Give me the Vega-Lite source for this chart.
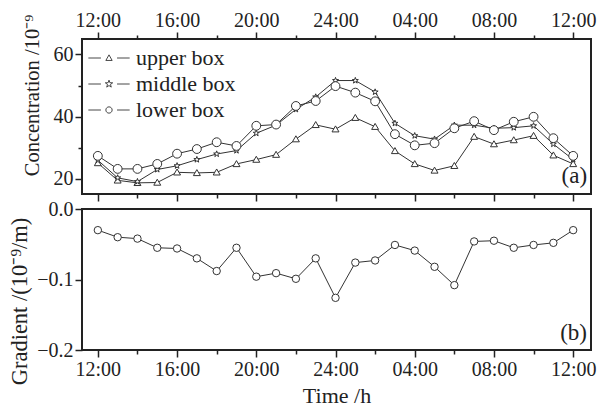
{
  "$schema": "https://vega.github.io/schema/vega-lite/v6.json",
  "padding": {"left": 6, "top": 9, "right": 2, "bottom": 4},
  "background": "white",
  "bounds": "flush",
  "spacing": 15,
  "datasets": {
    "conc": [
      {"h":0,"series":"upper box","value":25.0},{"h":1,"series":"upper box","value":19.4},{"h":2,"series":"upper box","value":18.6},{"h":3,"series":"upper box","value":18.7},{"h":4,"series":"upper box","value":22.0},{"h":5,"series":"upper box","value":21.8},{"h":6,"series":"upper box","value":22.0},{"h":7,"series":"upper box","value":24.7},{"h":8,"series":"upper box","value":26.1},{"h":9,"series":"upper box","value":27.7},{"h":10,"series":"upper box","value":32.7},{"h":11,"series":"upper box","value":37.3},{"h":12,"series":"upper box","value":35.9},{"h":13,"series":"upper box","value":39.6},{"h":14,"series":"upper box","value":36.7},{"h":15,"series":"upper box","value":28.9},{"h":16,"series":"upper box","value":24.7},{"h":17,"series":"upper box","value":22.6},{"h":18,"series":"upper box","value":24.1},{"h":19,"series":"upper box","value":33.5},{"h":20,"series":"upper box","value":31.1},{"h":21,"series":"upper box","value":32.4},{"h":22,"series":"upper box","value":33.8},{"h":23,"series":"upper box","value":27.5},{"h":24,"series":"upper box","value":24.7},
      {"h":0,"series":"middle box","value":25.9},{"h":1,"series":"middle box","value":20.2},{"h":2,"series":"middle box","value":19.0},{"h":3,"series":"middle box","value":22.9},{"h":4,"series":"middle box","value":24.1},{"h":5,"series":"middle box","value":26.1},{"h":6,"series":"middle box","value":27.9},{"h":7,"series":"middle box","value":29.0},{"h":8,"series":"middle box","value":34.6},{"h":9,"series":"middle box","value":37.2},{"h":10,"series":"middle box","value":42.3},{"h":11,"series":"middle box","value":46.3},{"h":12,"series":"middle box","value":51.6},{"h":13,"series":"middle box","value":51.6},{"h":14,"series":"middle box","value":47.9},{"h":15,"series":"middle box","value":37.8},{"h":16,"series":"middle box","value":33.8},{"h":17,"series":"middle box","value":32.7},{"h":18,"series":"middle box","value":37.2},{"h":19,"series":"middle box","value":37.2},{"h":20,"series":"middle box","value":36.2},{"h":21,"series":"middle box","value":36.4},{"h":22,"series":"middle box","value":37.0},{"h":23,"series":"middle box","value":31.1},{"h":24,"series":"middle box","value":26.1},
      {"h":0,"series":"lower box","value":27.3},{"h":1,"series":"lower box","value":23.1},{"h":2,"series":"lower box","value":23.1},{"h":3,"series":"lower box","value":24.7},{"h":4,"series":"lower box","value":28.0},{"h":5,"series":"lower box","value":29.5},{"h":6,"series":"lower box","value":31.7},{"h":7,"series":"lower box","value":30.5},{"h":8,"series":"lower box","value":37.0},{"h":9,"series":"lower box","value":37.4},{"h":10,"series":"lower box","value":43.4},{"h":11,"series":"lower box","value":45.0},{"h":12,"series":"lower box","value":49.8},{"h":13,"series":"lower box","value":47.7},{"h":14,"series":"lower box","value":44.9},{"h":15,"series":"lower box","value":34.3},{"h":16,"series":"lower box","value":30.7},{"h":17,"series":"lower box","value":31.4},{"h":18,"series":"lower box","value":36.2},{"h":19,"series":"lower box","value":38.5},{"h":20,"series":"lower box","value":35.6},{"h":21,"series":"lower box","value":38.3},{"h":22,"series":"lower box","value":39.9},{"h":23,"series":"lower box","value":33.0},{"h":24,"series":"lower box","value":27.3}
    ],
    "grad": [
      {"h":0,"gradient":-0.030},{"h":1,"gradient":-0.040},{"h":2,"gradient":-0.042},{"h":3,"gradient":-0.055},{"h":4,"gradient":-0.056},{"h":5,"gradient":-0.070},{"h":6,"gradient":-0.088},{"h":7,"gradient":-0.055},{"h":8,"gradient":-0.096},{"h":9,"gradient":-0.091},{"h":10,"gradient":-0.099},{"h":11,"gradient":-0.070},{"h":12,"gradient":-0.126},{"h":13,"gradient":-0.076},{"h":14,"gradient":-0.073},{"h":15,"gradient":-0.051},{"h":16,"gradient":-0.059},{"h":17,"gradient":-0.082},{"h":18,"gradient":-0.108},{"h":19,"gradient":-0.046},{"h":20,"gradient":-0.045},{"h":21,"gradient":-0.055},{"h":22,"gradient":-0.051},{"h":23,"gradient":-0.048},{"h":24,"gradient":-0.030}
    ],
    "panelA": [{"label": "(a)"}],
    "panelB": [{"label": "(b)"}]
  },
  "vconcat": [
    {
      "width": 509,
      "height": 155,
      "resolve": {"axis": {"x": "independent", "y": "independent"}, "scale": {"shape": "independent"}, "legend": {"shape": "independent"}},
      "layer": [
        {
          "data": {"name": "conc"},
          "mark": {"type": "line", "color": "#333", "strokeWidth": 1},
          "encoding": {
            "x": {"field": "h", "type": "quantitative", "scale": {"domain": [-0.8, 24.9], "nice": false, "zero": false},
                  "axis": {"orient": "top", "title": null, "values": [0,2,4,6,8,10,12,14,16,18,20,22,24],
                           "labelExpr": "datum.value % 4 != 0 ? '' : (datum.value == 12 ? '24:00' : (((12 + datum.value) % 24 < 10 ? '0' : '') + ((12 + datum.value) % 24) + ':00'))",
                           "tickSize": {"condition": {"test": "datum.value % 4 == 0", "value": 7}, "value": 4}}},
            "y": {"field": "value", "type": "quantitative", "scale": {"domain": [15, 65], "nice": false, "zero": false},
                  "axis": {"title": "Concentration /10⁻⁹", "values": [20,30,40,50,60],
                           "labelExpr": "datum.value % 20 == 0 ? datum.label : ''",
                           "titleFontSize": 20.5, "titleX": -44, "titleY": 56, "titleBaseline": "alphabetic", "titleAlign": "center",
                           "tickSize": {"condition": {"test": "datum.value % 20 == 0", "value": 7}, "value": 4}}},
            "detail": {"field": "series"}
          }
        },
        {
          "data": {"name": "conc"},
          "mark": {"type": "point", "filled": true, "fill": "white", "stroke": "#333", "strokeWidth": 1, "opacity": 1, "size": 40},
          "encoding": {
            "x": {"field": "h", "type": "quantitative",
                  "axis": {"orient": "bottom", "title": null, "labels": false, "values": [0,2,4,6,8,10,12,14,16,18,20,22,24],
                           "tickSize": {"condition": {"test": "datum.value % 4 == 0", "value": 7}, "value": 4}}},
            "y": {"field": "value", "type": "quantitative", "axis": null},
            "shape": {"field": "series", "type": "nominal", "legend": null,
                      "scale": {"domain": ["upper box", "middle box", "lower box"],
                                "range": ["M0,-1.05L1.1,0.85L-1.1,0.85Z",
                                          "M0,-1L0.235,-0.324L0.951,-0.309L0.38,0.124L0.588,0.809L0,0.4L-0.588,0.809L-0.38,0.124L-0.951,-0.309L-0.235,-0.324Z",
                                          "M1.4,0A1.4,1.4 0 1,1 -1.4,0A1.4,1.4 0 1,1 1.4,0Z"]}}
          }
        },
        {
          "data": {"name": "conc"},
          "transform": [{"filter": "datum.h < 0"}],
          "mark": {"type": "point", "filled": true, "fill": "white", "stroke": "#333", "strokeWidth": 1, "opacity": 1},
          "encoding": {
            "x": {"field": "h", "type": "quantitative", "axis": null},
            "y": {"field": "value", "type": "quantitative", "axis": null},
            "shape": {"field": "series", "type": "nominal",
                      "scale": {"domain": ["upper box", "middle box", "lower box"],
                                "range": ["M-5.9,0L-2.3,0M0,-0.9L0.9,0.7L-0.9,0.7ZM2.3,0L5.9,0",
                                          "M-5.9,0L-2.3,0M0,-1.1L0.26,-0.36L1.05,-0.34L0.42,0.14L0.65,0.89L0,0.44L-0.65,0.89L-0.42,0.14L-1.05,-0.34L-0.26,-0.36ZM2.3,0L5.9,0",
                                          "M-5.9,0L-2.3,0M0.9,0A0.9,0.9 0 1,1 -0.9,0A0.9,0.9 0 1,1 0.9,0ZM2.3,0L5.9,0"]},
                      "legend": {"title": null, "orient": "none", "legendX": 16, "legendY": 8,
                                 "symbolSize": 49, "symbolStrokeWidth": 0.9, "labelFont": "Liberation Serif", "labelFontSize": 22, "labelColor": "#222", "labelOffset": 16, "rowPadding": 4}}
          }
        },
        {
          "data": {"name": "panelA"},
          "mark": {"type": "text", "align": "right", "baseline": "alphabetic", "font": "Liberation Serif", "fontSize": 23, "color": "#222"},
          "encoding": {
            "text": {"field": "label"},
            "x": {"datum": 24.7, "type": "quantitative", "axis": null},
            "y": {"datum": 18.6, "type": "quantitative", "axis": null}
          }
        }
      ]
    },
    {
      "width": 509,
      "height": 141,
      "layer": [
        {
          "data": {"name": "grad"},
          "mark": {"type": "line", "color": "#333", "strokeWidth": 1},
          "encoding": {
            "x": {"field": "h", "type": "quantitative", "scale": {"domain": [-0.8, 24.9], "nice": false, "zero": false},
                  "axis": {"orient": "bottom", "title": "Time /h", "values": [0,2,4,6,8,10,12,14,16,18,20,22,24],
                           "titleFontSize": 22, "titlePadding": 6,
                           "labelExpr": "datum.value % 4 != 0 ? '' : (datum.value == 12 ? '24:00' : (((12 + datum.value) % 24 < 10 ? '0' : '') + ((12 + datum.value) % 24) + ':00'))",
                           "tickSize": {"condition": {"test": "datum.value % 4 == 0", "value": 7}, "value": 4}}},
            "y": {"field": "gradient", "type": "quantitative", "scale": {"domain": [-0.2, 0], "nice": false, "zero": false},
                  "axis": {"title": "Gradient /(10⁻⁹/m)", "values": [-0.2,-0.15,-0.1,-0.05,0], "format": ".1f",
                           "titleFontSize": 22.5, "titleX": -56, "titleY": 92, "titleBaseline": "alphabetic", "titleAlign": "center",
                           "labelExpr": "abs(datum.value * 10 - round(datum.value * 10)) < 0.001 ? datum.label : ''",
                           "tickSize": {"condition": {"test": "abs(datum.value * 10 - round(datum.value * 10)) < 0.001", "value": 7}, "value": 4}}}
          }
        },
        {
          "data": {"name": "grad"},
          "mark": {"type": "point", "shape": "circle", "filled": true, "fill": "white", "stroke": "#333", "strokeWidth": 1, "opacity": 1, "size": 55},
          "encoding": {
            "x": {"field": "h", "type": "quantitative"},
            "y": {"field": "gradient", "type": "quantitative"}
          }
        },
        {
          "data": {"name": "panelB"},
          "mark": {"type": "text", "align": "right", "baseline": "alphabetic", "font": "Liberation Serif", "fontSize": 23, "color": "#222"},
          "encoding": {
            "text": {"field": "label"},
            "x": {"datum": 24.7, "type": "quantitative"},
            "y": {"datum": -0.186, "type": "quantitative"}
          }
        }
      ]
    }
  ],
  "config": {
    "view": {"stroke": "#222", "strokeWidth": 2},
    "axis": {"grid": false, "domain": false, "labelFont": "Liberation Serif", "labelFontSize": 20, "labelColor": "#222",
             "titleFont": "Liberation Serif", "titleFontSize": 20, "titleFontWeight": "normal", "titleColor": "#222",
             "tickColor": "#222", "tickWidth": 1.5, "labelPadding": 2, "labelOverlap": false, "labelFlush": false},
    "legend": {"labelFont": "Liberation Serif"},
    "text": {"font": "Liberation Serif"}
  }
}
